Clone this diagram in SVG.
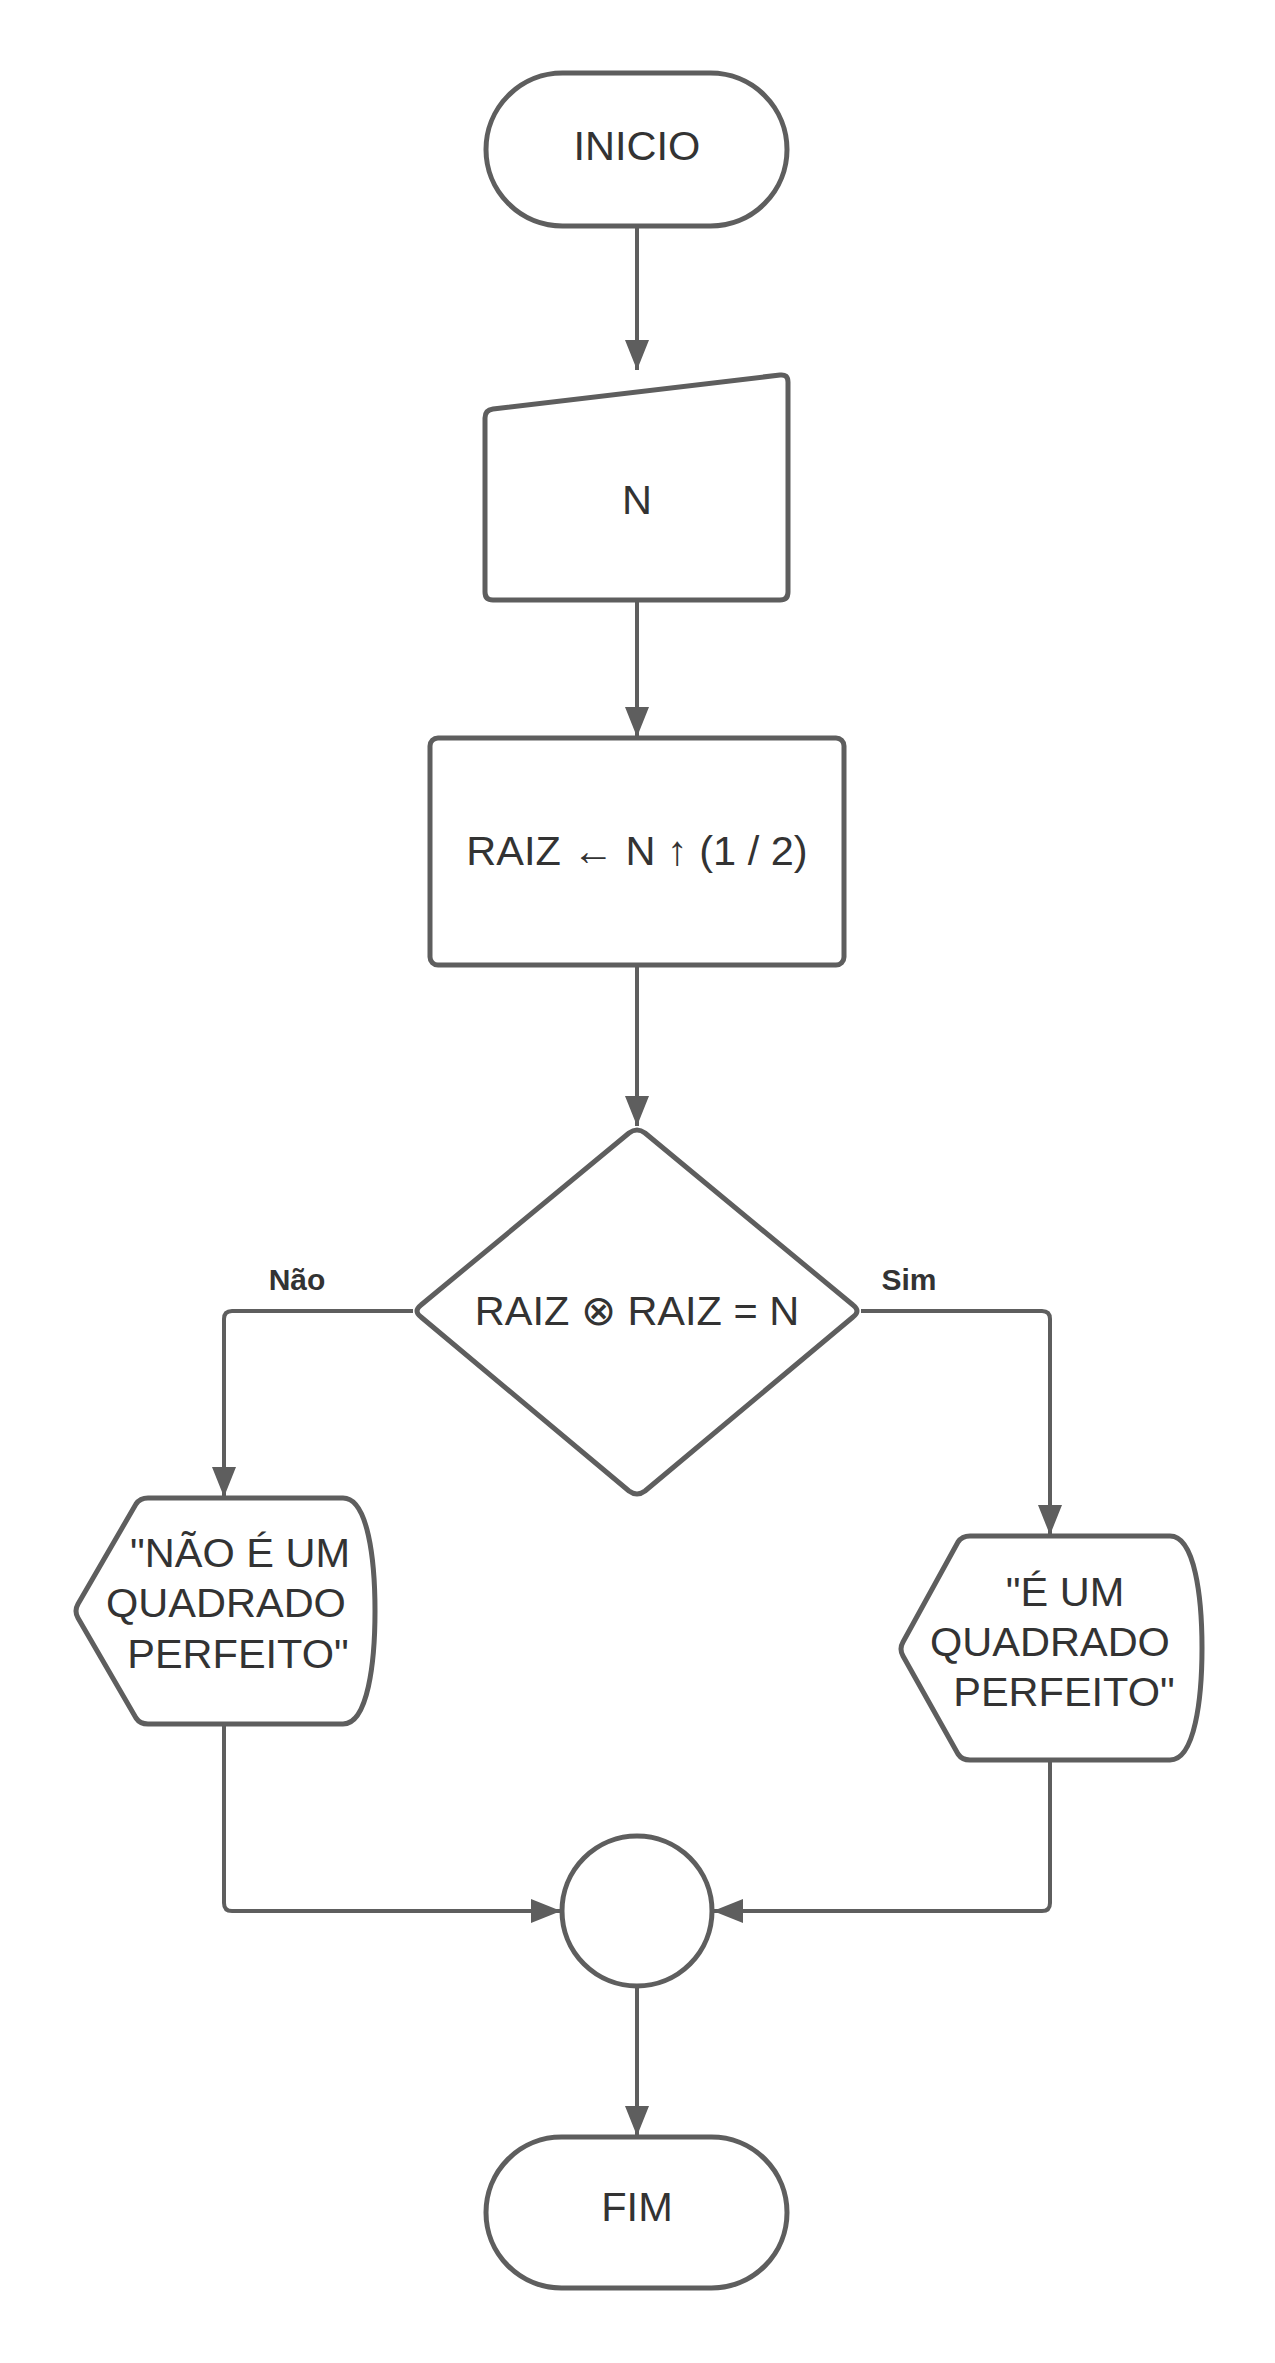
<svg xmlns="http://www.w3.org/2000/svg" width="1275" height="2363" viewBox="0 0 1275 2363">
<style>
.s{fill:#fff;stroke:#5e5e5e;stroke-width:5;stroke-linejoin:round}
.c{fill:none;stroke:#5e5e5e;stroke-width:4;stroke-linejoin:round}
.t{font-family:"Liberation Sans",Arial,sans-serif;font-size:41.5px;fill:#333;text-anchor:middle}
.l{font-family:"Liberation Sans",Arial,sans-serif;font-size:30px;font-weight:bold;fill:#333;text-anchor:middle}
</style>
<defs>
<marker id="a" markerUnits="userSpaceOnUse" markerWidth="30" markerHeight="24" viewBox="0 0 30 24" refX="30" refY="12" orient="auto">
<path d="M0 0 L30 12 L0 24 Z" fill="#5e5e5e"/>
</marker>
</defs>
<rect width="1275" height="2363" fill="#fff"/>
<g id="connectors">
<path class="c" d="M637 226 V370" marker-end="url(#a)"/>
<path class="c" d="M637 600 V737" marker-end="url(#a)"/>
<path class="c" d="M637 965 V1126" marker-end="url(#a)"/>
<path class="c" d="M413 1311 H232 Q224 1311 224 1319 V1497" marker-end="url(#a)"/>
<path class="c" d="M861 1311 H1042 Q1050 1311 1050 1319 V1535" marker-end="url(#a)"/>
<path class="c" d="M224 1724 V1903 Q224 1911 232 1911 H561" marker-end="url(#a)"/>
<path class="c" d="M1050 1760 V1903 Q1050 1911 1042 1911 H713" marker-end="url(#a)"/>
<path class="c" d="M637 1986 V2136" marker-end="url(#a)"/>
<text class="l" x="297" y="1290">Não</text>
<text class="l" x="909" y="1290">Sim</text>
</g>
<g id="inicio">
<rect class="s" x="486" y="73" width="301" height="153" rx="76.5"/>
<text class="t" x="637" y="160">INICIO</text>
</g>
<g id="entrada">
<path class="s" d="M485 418 Q485 410 493 409 L780 375 Q788 374 788 382 L788 592 Q788 600 780 600 L493 600 Q485 600 485 592 Z"/>
<text class="t" x="637" y="514">N</text>
</g>
<g id="processo">
<rect class="s" x="430" y="738" width="414" height="227" rx="8"/>
<text class="t" x="637" y="865">RAIZ ←︎ N ↑︎ (1 / 2)</text>
</g>
<g id="decisao">
<path class="s" d="M629 1133 Q637 1127 645 1133 L853 1305 Q861 1311 853 1317 L645 1491 Q637 1497 629 1491 L421 1317 Q413 1311 421 1305 Z"/>
<text class="t" x="637" y="1325">RAIZ ⊗ RAIZ = N</text>
</g>
<g id="saida-nao">
<path class="s" d="M78 1604 L136 1504 Q140 1498 148 1498 L343 1498 C368 1498 375 1560 375 1611 C375 1662 368 1724 343 1724 L148 1724 Q140 1724 136 1718 L78 1618 Q74 1611 78 1604 Z"/>
<text class="t" x="240" y="1567">"NÃO É UM</text>
<text class="t" x="226" y="1617">QUADRADO</text>
<text class="t" x="238" y="1668">PERFEITO"</text>
</g>
<g id="saida-sim">
<path class="s" d="M903 1642 L958 1542 Q962 1536 970 1536 L1170 1536 C1195 1536 1202 1598 1202 1648 C1202 1698 1195 1760 1170 1760 L970 1760 Q962 1760 958 1754 L903 1656 Q899 1649 903 1642 Z"/>
<text class="t" x="1065" y="1606">"É UM</text>
<text class="t" x="1050" y="1656">QUADRADO</text>
<text class="t" x="1064" y="1706">PERFEITO"</text>
</g>
<g id="juncao">
<circle class="s" cx="637" cy="1911" r="75"/>
</g>
<g id="fim">
<rect class="s" x="486" y="2137" width="301" height="151" rx="75.5"/>
<text class="t" x="637" y="2221">FIM</text>
</g>
</svg>
